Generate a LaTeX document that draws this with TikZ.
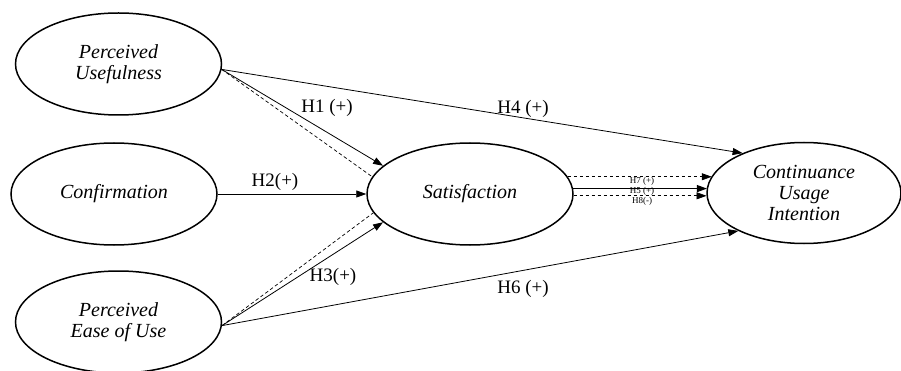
\documentclass[tikz,border=0pt]{standalone}
\usepackage{fontspec}
\setmainfont{Liberation Serif}
\usetikzlibrary{arrows.meta,shapes.geometric}
\tikzset{
  construct/.style={ellipse,draw,line width=1.5pt,inner sep=0pt,
    minimum width=206pt,minimum height=102pt,align=center,
    font=\fontsize{20}{21}\selectfont\itshape},
  path/.style={line width=0.8pt,-{Triangle[length=10pt,width=7pt]}},
  dpath/.style={line width=0.7pt,dash pattern=on 3.5pt off 2.5pt},
  dpatharrow/.style={dpath,-{Triangle[length=10pt,width=7pt]}},
  hlabel/.style={font=\fontsize{19}{20}\selectfont,inner sep=1pt},
  tinylabel/.style={font=\fontsize{9}{9}\selectfont,inner sep=0pt}
}
\begin{document}
\begin{tikzpicture}[x=1pt,y=-1pt]
\useasboundingbox (0,0) rectangle (901,371);
\node[construct] (pu) at (118.5,64) {Perceived\\Usefulness};
\node[construct] (conf) at (114,194) {Confirmation};
\node[construct] (peou) at (118.5,322) {Perceived\\Ease of Use};
\node[construct] (sat) at (470,194) {Satisfaction};
\node[construct,minimum width=194pt,minimum height=101pt] (cui) at (804,193) {Continuance\\Usage\\Intention};

\draw[path] (pu.-3) -- (sat.162);
\draw[dpath] (pu.-3) -- (sat.170);
\draw[path] (pu.-3) -- (cui.147);
\draw[path] (conf.east) -- (sat.west);
\draw[path] (peou.-2) -- (sat.198);
\draw[dpath] (peou.-2) -- (sat.191);
\draw[path] (peou.-2) -- (cui.210.7);
\draw[dpatharrow] (sat.10.6) -- ([xshift=5.5pt]sat.10.6 -| cui.west);
\draw[path,line width=1pt] (sat.3.9) -- ([xshift=0.7pt]sat.3.9 -| cui.west);
\draw[dpatharrow] (sat.-1.7) -- ([xshift=0.3pt]sat.-1.7 -| cui.west);

\node[hlabel] (h1) at (327,108) {H1 (+)};
\node[hlabel] (h2) at (275,182) {H2(+)};
\node[hlabel] (h3) at (333,277) {H3(+)};
\node[hlabel] (h4) at (523,109) {H4 (+)};
\node[hlabel] (h6) at (523,289) {H6 (+)};
\node[tinylabel] (h7) at (642,181) {H7 (+)};
\node[tinylabel] (h5) at (642,191) {H5 (+)};
\node[tinylabel] (h8) at (642,201) {H8(-)};
\end{tikzpicture}
\end{document}
